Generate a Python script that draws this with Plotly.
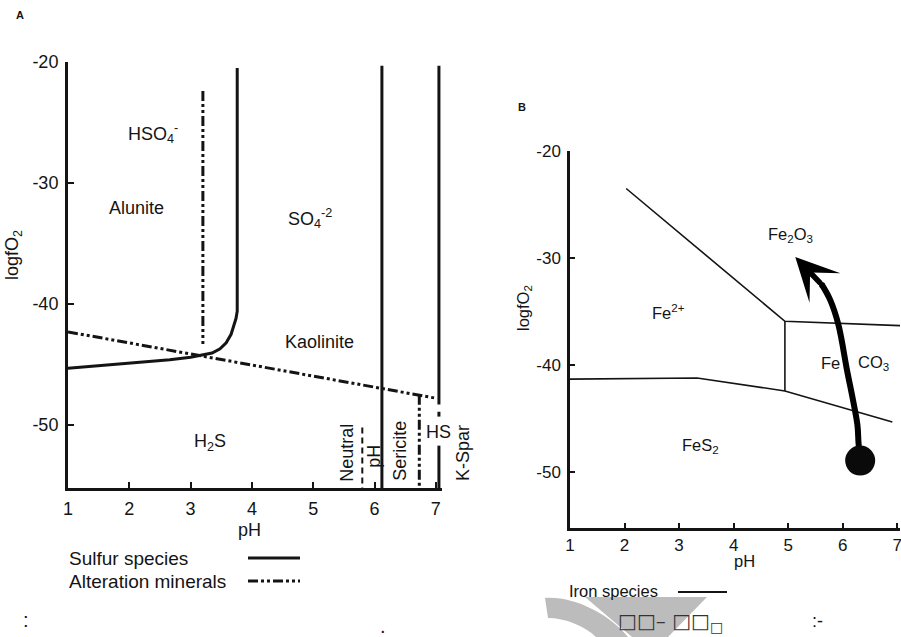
import plotly.graph_objects as go

W, H = 901, 637
INK = "#141414"
FONT = "Liberation Sans, Arial, Helvetica, sans-serif"

# ---------------- Panel A : sulfur species / alteration minerals ----------------
ph_ticks_a = [1, 2, 3, 4, 5, 6, 7]
ph_labels_a = ["1", "2", "3", "4", "5", "6", "7"]
fo2_ticks = [-20, -30, -40, -50]
fo2_labels = ["-20", "-30", "-40", "-50"]

# H2S | HSO4- / SO4-2 boundary
h2s_ph = [1.0, 2.0, 2.66, 3.0, 3.2, 3.35, 3.48, 3.58, 3.66, 3.71, 3.74, 3.76, 3.76]
h2s_fo2 = [-45.3, -44.9, -44.6, -44.4, -44.2, -44.05, -43.7, -43.2, -42.5, -41.8, -41.2, -40.6, -20.5]

# HSO4- / SO4-2 pH boundary and SO4-2 / HS- boundary
so4_ph = [6.12, 6.12]
so4_fo2 = [-20.3, -55.2]
hs_ph = [7.05, 7.05, None, 7.05, 7.05, None, 7.05, 7.05]
hs_fo2 = [-20.3, -48.3, None, -48.9, -49.3, None, -51.7, -55.2]

# alteration mineral boundaries
kaol_ph = [1.0, 7.02]
kaol_fo2 = [-42.3, -47.8]
alun_ph = [3.2, 3.2]
alun_fo2 = [-22.4, -43.3]
seri_ph = [6.73, 6.73]
seri_fo2 = [-47.5, -55.2]
neutral_ph = [5.8, 5.8]
neutral_fo2 = [-50.2, -55.2]

# field labels, panel A
a_labels = ["HSO<sub>4</sub><sup>-</sup>", "Alunite", "SO<sub>4</sub><sup>-2</sup>",
            "Kaolinite", "H<sub>2</sub>S", "HS"]
a_label_ph = [2.39, 2.11, 4.95, 5.11, 3.32, 7.04]
a_label_fo2 = [-25.9, -32.1, -32.9, -43.1, -51.4, -50.6]
a_vlabels = ["Neutral", "pH", "Sericite"]
a_vlabel_ph = [5.55, 5.98, 6.42]
a_vlabel_fo2 = [-52.3, -52.6, -52.1]

# ---------------- Panel B : iron species ----------------
ph_ticks_b = [1, 2, 3, 4, 5, 6, 7]
ph_labels_b = ["1", "2", "3", "4", "5", "6", "7"]

fe_upper_ph = [2.03, 4.94, 7.05]
fe_upper_fo2 = [-23.5, -35.9, -36.3]
fe_vert_ph = [4.94, 4.94]
fe_vert_fo2 = [-35.9, -42.4]
fe_lower_ph = [1.0, 3.33, 4.94, 6.91]
fe_lower_fo2 = [-41.3, -41.2, -42.4, -45.3]

# evolution path (start point + curved arrow)
path_ph = [6.32, 6.29, 6.27, 6.19, 6.08, 5.92, 5.77, 5.62]
path_fo2 = [-48.9, -47.3, -45.6, -43.3, -40.5, -36.2, -33.9, -32.5]
tip_ph, tip_fo2 = 5.13, -29.9

b_labels = ["Fe<sub>2</sub>O<sub>3</sub>", "Fe<sup>2+</sup>", "Fe", "CO<sub>3</sub>", "FeS<sub>2</sub>"]
b_label_ph = [5.04, 2.80, 5.77, 6.56, 3.39]
b_label_fo2 = [-27.85, -35.0, -39.8, -39.8, -47.5]


def px(x):
    return x / W


def py(y):
    return 1 - y / H


def ptext(text, x, y, size, **kw):
    """Free text placed in page pixels, centred on (x, y)."""
    d = dict(text=text, x=px(x), y=py(y), xref="paper", yref="paper",
             xanchor="center", yanchor="middle", showarrow=False,
             font=dict(size=size, color=INK))
    d.update(kw)
    return d


fig = go.Figure()

solid_a = dict(color=INK, width=3)
ddot = dict(color=INK, width=3, dash="10px,3px,3px,3px,3px,3px")

for xs, ys in [(h2s_ph, h2s_fo2), (so4_ph, so4_fo2), (hs_ph, hs_fo2)]:
    fig.add_trace(go.Scatter(x=xs, y=ys, mode="lines", line=solid_a,
                             xaxis="x", yaxis="y", connectgaps=False, hoverinfo="skip"))
for xs, ys in [(kaol_ph, kaol_fo2), (alun_ph, alun_fo2), (seri_ph, seri_fo2)]:
    fig.add_trace(go.Scatter(x=xs, y=ys, mode="lines", line=ddot,
                             xaxis="x", yaxis="y", hoverinfo="skip"))
fig.add_trace(go.Scatter(x=neutral_ph, y=neutral_fo2, mode="lines",
                         line=dict(color=INK, width=2, dash="6px,4px"),
                         xaxis="x", yaxis="y", hoverinfo="skip"))

solid_b = dict(color=INK, width=1.6)
for xs, ys in [(fe_upper_ph, fe_upper_fo2), (fe_vert_ph, fe_vert_fo2), (fe_lower_ph, fe_lower_fo2)]:
    fig.add_trace(go.Scatter(x=xs, y=ys, mode="lines", line=solid_b,
                             xaxis="x2", yaxis="y2", hoverinfo="skip"))

fig.add_trace(go.Scatter(x=path_ph, y=path_fo2, mode="lines",
                         line=dict(color="#000000", width=6, shape="spline"),
                         xaxis="x2", yaxis="y2", hoverinfo="skip"))
# round joint where the curved shaft meets the arrowhead
fig.add_trace(go.Scatter(x=path_ph[-1:], y=path_fo2[-1:], mode="markers",
                         marker=dict(color="#000000", size=6),
                         xaxis="x2", yaxis="y2", hoverinfo="skip"))
fig.add_trace(go.Scatter(x=path_ph[:1], y=path_fo2[:1], mode="markers",
                         marker=dict(color="#0a0a0a", size=30),
                         xaxis="x2", yaxis="y2", hoverinfo="skip"))

ann = []
for t, x, y in zip(a_labels, a_label_ph, a_label_fo2):
    ann.append(dict(text=t, x=x, y=y, xref="x", yref="y", showarrow=False,
                    xanchor="center", yanchor="middle", font=dict(size=18, color=INK)))
for t, x, y in zip(a_vlabels, a_vlabel_ph, a_vlabel_fo2):
    ann.append(dict(text=t, x=x, y=y, xref="x", yref="y", showarrow=False,
                    xanchor="center", yanchor="middle", textangle=-90,
                    font=dict(size=18, color=INK)))
ann.append(ptext("K-Spar", 463, 453, 18, textangle=-90))

for t, x, y in zip(b_labels, b_label_ph, b_label_fo2):
    ann.append(dict(text=t, x=x, y=y, xref="x2", yref="y2", showarrow=False,
                    xanchor="center", yanchor="middle", font=dict(size=16.5, color=INK)))

# arrowhead of the path
ann.append(dict(x=tip_ph, y=tip_fo2, ax=path_ph[-1], ay=path_fo2[-1],
                xref="x2", yref="y2", axref="x2", ayref="y2", text="",
                showarrow=True, arrowhead=3, arrowsize=1.3, arrowwidth=5.5,
                arrowcolor="#000000", standoff=0))

# axis titles, panel letters, legends
ann += [
    ptext("<b>A</b>", 20, 15, 11),
    ptext("<b>B</b>", 522, 107, 11),
    ptext("pH", 249, 530, 18),
    ptext("logfO<sub>2</sub>", 13, 255, 18, textangle=-90),
    ptext("pH", 744, 561, 16.5),
    ptext("logfO<sub>2</sub>", 524, 308, 16.5, textangle=-90),
    ptext("Sulfur species", 67, 558, 19, xanchor="left"),
    ptext("Alteration minerals", 67, 581, 19, xanchor="left"),
    ptext("Iron species", 567, 591, 16.5, xanchor="left"),
    ptext("□□– □□<sub>□</sub>", 670, 622, 20,
          font=dict(size=20, color="#333333", family="DejaVu Sans")),
    ptext(":-", 817, 621, 18),
    ptext(":", 26, 620, 20),
    ptext(".", 383, 626, 20),
]

shapes = [
    # legend samples
    dict(type="line", xref="paper", yref="paper", x0=px(248), x1=px(300),
         y0=py(558), y1=py(558), line=dict(color=INK, width=3)),
    dict(type="line", xref="paper", yref="paper", x0=px(248), x1=px(300),
         y0=py(581), y1=py(581), line=dict(color=INK, width=3, dash="10px,3px,3px,3px,3px,3px")),
    dict(type="line", xref="paper", yref="paper", x0=px(678), x1=px(727),
         y0=py(592), y1=py(592), line=dict(color=INK, width=2)),
    # grey logo marks at the foot of the page
    dict(type="path", xref="paper", yref="paper", layer="below",
         path=(f"M {px(545)},{py(598)} C {px(575)},{py(596)} {px(610)},{py(615)} {px(628)},{py(637)} "
               f"L {px(596)},{py(637)} C {px(585)},{py(626)} {px(565)},{py(618)} {px(548)},{py(618)} Z"),
         fillcolor="#bcbcbc", line=dict(width=0)),
    dict(type="path", xref="paper", yref="paper", layer="below",
         path=(f"M {px(585)},{py(597)} L {px(707)},{py(597)} L {px(668)},{py(637)} "
               f"L {px(632)},{py(637)} Z"),
         fillcolor="#bcbcbc", line=dict(width=0)),
]

axis_common = dict(showgrid=False, zeroline=False, showline=True, linecolor=INK,
                   ticks="inside", tickcolor=INK, mirror=False, fixedrange=True,
                   automargin=False, ticklabeloverflow="allow")

fig.update_layout(
    width=W, height=H, margin=dict(l=0, r=0, t=0, b=0, pad=0),
    paper_bgcolor="white", plot_bgcolor="white", showlegend=False,
    font=dict(family=FONT, color=INK),
    xaxis=dict(domain=[px(68), px(442)], range=[1, 7.1], tickvals=ph_ticks_a,
               ticktext=ph_labels_a, anchor="y", linewidth=3, ticklen=6, tickwidth=2,
               tickfont=dict(size=18), ticklabelstandoff=2, **axis_common),
    yaxis=dict(domain=[py(488), py(62)], range=[-55.2, -20], tickvals=fo2_ticks,
               ticktext=fo2_labels, anchor="x", linewidth=3, ticklen=6, tickwidth=2,
               tickfont=dict(size=18), ticklabelstandoff=3, **axis_common),
    xaxis2=dict(domain=[px(570), px(900)], range=[1, 7.05], tickvals=ph_ticks_b,
                ticktext=ph_labels_b, anchor="y2", linewidth=2.5, ticklen=5, tickwidth=2,
                tickfont=dict(size=17), ticklabelstandoff=0, **axis_common),
    yaxis2=dict(domain=[py(528), py(151)], range=[-55.2, -20], tickvals=fo2_ticks,
                ticktext=fo2_labels, anchor="x2", linewidth=2.5, ticklen=5, tickwidth=2,
                tickfont=dict(size=17), ticklabelstandoff=3, **axis_common),
    annotations=ann, shapes=shapes,
)

fig.write_html("out.html")
